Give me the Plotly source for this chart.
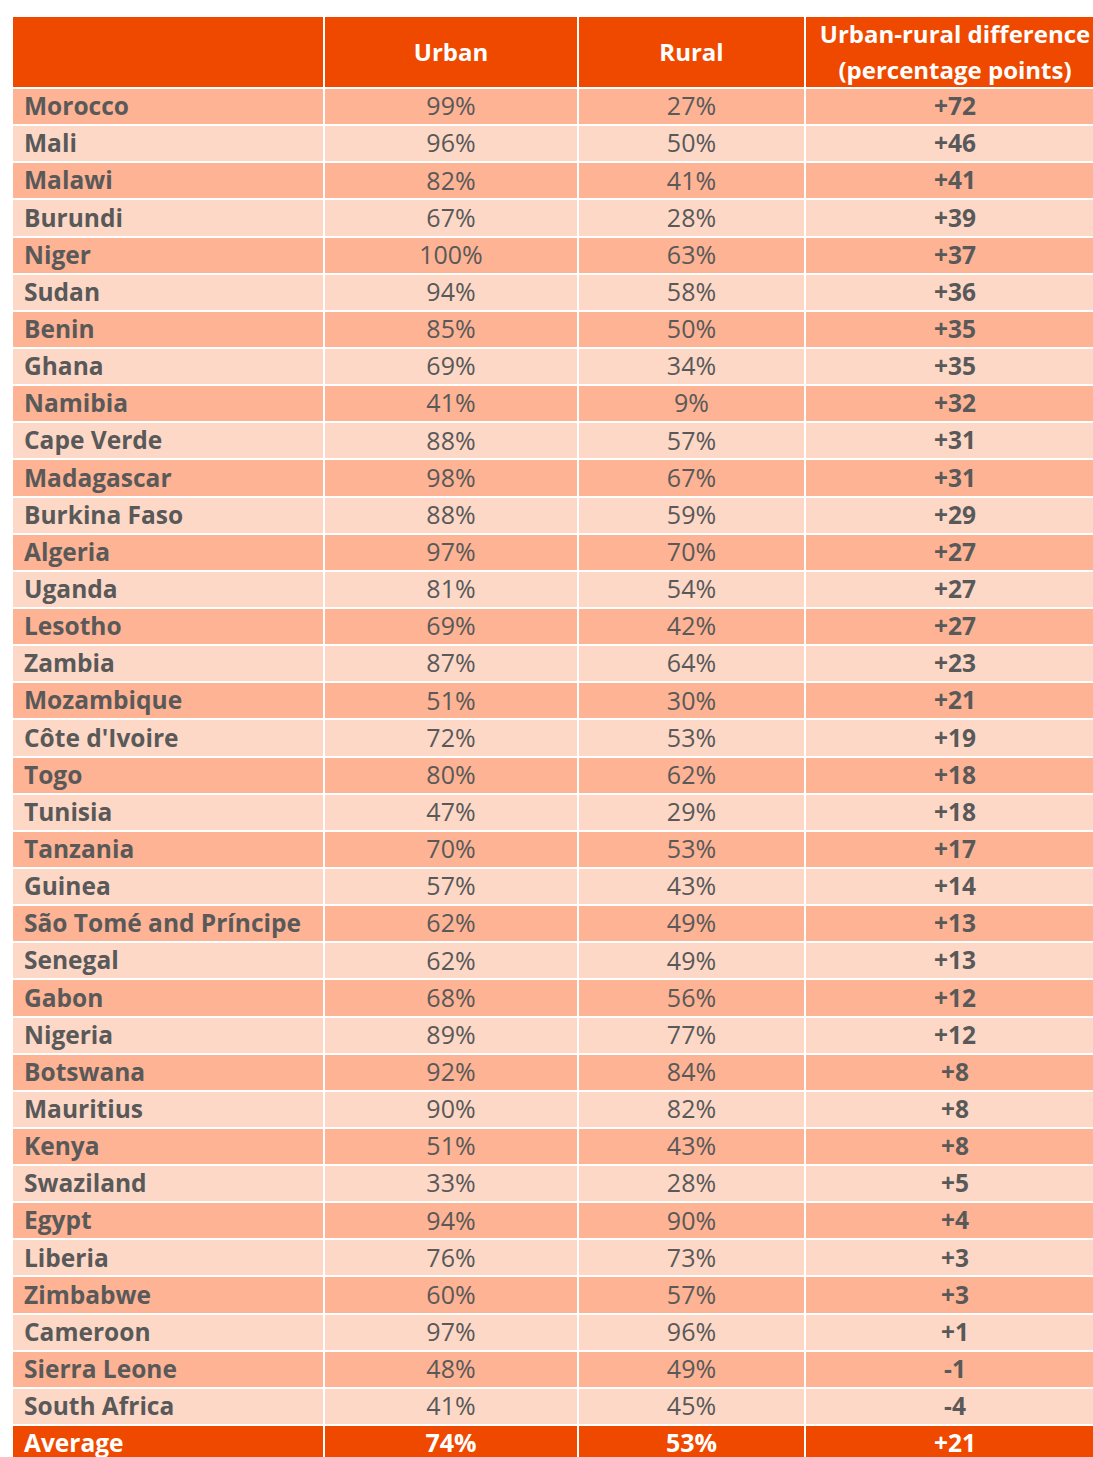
import plotly.graph_objects as go

countries = ["Morocco", "Mali", "Malawi", "Burundi", "Niger", "Sudan", "Benin", "Ghana",
             "Namibia", "Cape Verde", "Madagascar", "Burkina Faso", "Algeria", "Uganda",
             "Lesotho", "Zambia", "Mozambique", "Côte d'Ivoire", "Togo", "Tunisia",
             "Tanzania", "Guinea", "São Tomé and Príncipe", "Senegal", "Gabon", "Nigeria",
             "Botswana", "Mauritius", "Kenya", "Swaziland", "Egypt", "Liberia", "Zimbabwe",
             "Cameroon", "Sierra Leone", "South Africa"]
urban = [99, 96, 82, 67, 100, 94, 85, 69, 41, 88, 98, 88, 97, 81, 69, 87, 51, 72, 80, 47,
         70, 57, 62, 62, 68, 89, 92, 90, 51, 33, 94, 76, 60, 97, 48, 41]
rural = [27, 50, 41, 28, 63, 58, 50, 34, 9, 57, 67, 59, 70, 54, 42, 64, 30, 53, 62, 29,
         53, 43, 49, 49, 56, 77, 84, 82, 43, 28, 90, 73, 57, 96, 49, 45]
diff = [72, 46, 41, 39, 37, 36, 35, 35, 32, 31, 31, 29, 27, 27, 27, 23, 21, 19, 18, 18,
        17, 14, 13, 13, 12, 12, 8, 8, 8, 5, 4, 3, 3, 1, -1, -4]
avg_label = "Average"
avg_urban = 74
avg_rural = 53
avg_diff = 21

headers = ["", "Urban", "Rural", "Urban-rural difference<br>(percentage points)"]

# ---- styling / layout constants ----
HEAD = "#EF4900"
DARK = "#FDB394"
LIGHT = "#FDD8C7"
GREY = "#595959"
FONT = "Open Sans"
FS_REG, FS_BOLD, FS_HEAD = 25, 24.5, 24
W, H = 1093, 1457

col_edges = [12, 324, 578, 805, 1105]   # last column runs past the visible edge
head_top, head_bot = 16, 88
row_h = 37.14
TEXT_DY = 2.5                            # optical vertical offset of text

n = len(countries)
row_edges = [head_top, head_bot] + [head_bot + row_h * (i + 1) for i in range(n + 1)]

# fill matrix: 2 = header orange, 0 = dark, 1 = light
z = [[2] * 4] + [[i % 2] * 4 for i in range(n)] + [[2] * 4]

fig = go.Figure()
fig.add_trace(go.Heatmap(
    x=col_edges, y=row_edges, z=z,
    zmin=0, zmax=2,
    colorscale=[[0, DARK], [0.5, LIGHT], [1, HEAD]],
    showscale=False, xgap=2, ygap=2, hoverinfo="skip",
))

col_centers = [(col_edges[j] + col_edges[j + 1]) / 2 for j in range(4)]
row_centers = [(row_edges[k] + row_edges[k + 1]) / 2 + TEXT_DY for k in range(1, n + 2)]
head_center = (row_edges[0] + row_edges[1]) / 2 + TEXT_DY

# header texts (multi-line headers placed line by line)
hx, hy, ht = [], [], []
LINE_GAP = 36
for j, h in enumerate(headers):
    if not h:
        continue
    lines = h.split("<br>")
    for li, line in enumerate(lines):
        hx.append(col_centers[j])
        hy.append(head_center + (li - (len(lines) - 1) / 2) * LINE_GAP)
        ht.append(f"<b>{line}</b>")
fig.add_trace(go.Scatter(
    x=hx, y=hy, text=ht,
    mode="text", textposition="middle center",
    textfont=dict(family=FONT, size=FS_HEAD, color="white"),
    hoverinfo="skip", cliponaxis=False,
))

colors = [GREY] * n + ["white"]
col0 = ["<b>" + c + "</b>" for c in countries] + ["<b>" + avg_label + "</b>"]
col1 = [f"{v}%" for v in urban] + [f"<b>{avg_urban}%</b>"]
col2 = [f"{v}%" for v in rural] + [f"<b>{avg_rural}%</b>"]
col3 = [f"<b>{v:+d}</b>" for v in diff] + [f"<b>{avg_diff:+d}</b>"]

fig.add_trace(go.Scatter(
    x=[col_edges[0] + 12] * (n + 1), y=row_centers, text=col0,
    mode="text", textposition="middle right",
    textfont=dict(family=FONT, size=FS_BOLD, color=colors),
    hoverinfo="skip",
))
for j, col, fs in zip([1, 2, 3], [col1, col2, col3], [FS_REG, FS_REG, FS_BOLD]):
    fig.add_trace(go.Scatter(
        x=[col_centers[j]] * (n + 1), y=row_centers, text=col,
        mode="text", textposition="middle center",
        textfont=dict(family=FONT, size=fs, color=colors),
        hoverinfo="skip",
    ))

fig.update_layout(
    width=W, height=H, margin=dict(l=0, r=0, t=0, b=0),
    paper_bgcolor="white", plot_bgcolor="white", showlegend=False,
    xaxis=dict(range=[0, W], visible=False, fixedrange=True),
    yaxis=dict(range=[H, 0], visible=False, fixedrange=True),
)
fig.write_html("out.html", config={"displayModeBar": False},
               post_script="document.body.style.margin='0';document.body.style.overflow='hidden';")
